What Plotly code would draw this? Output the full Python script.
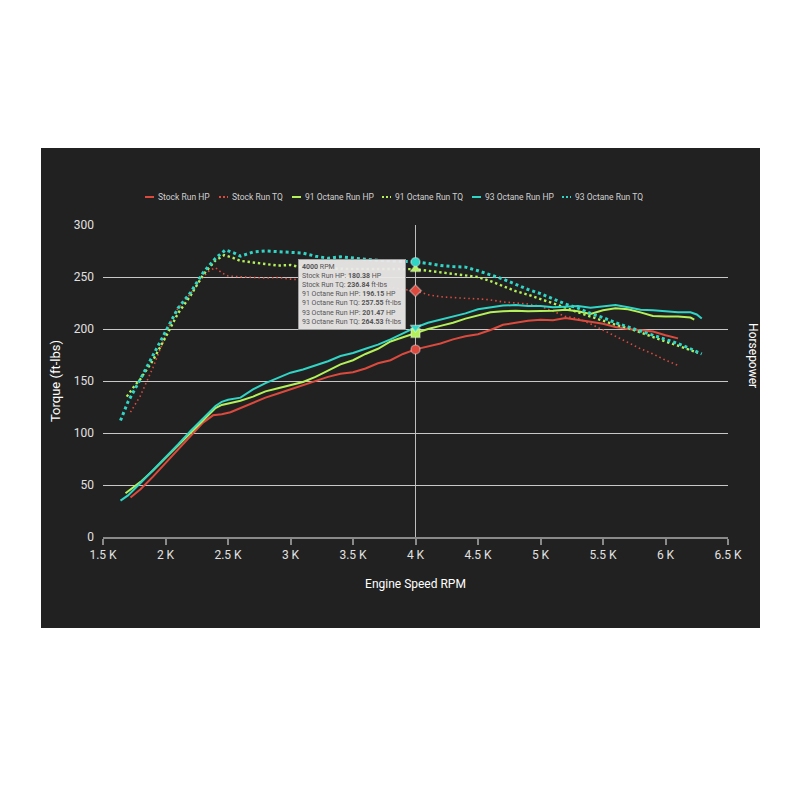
import plotly.graph_objects as go

stock_hp_rpm = [1720, 1800, 1900, 2000, 2100, 2200, 2300, 2380, 2450, 2520, 2600, 2700, 2800, 2900, 3000,
                3100, 3200, 3300, 3400, 3500, 3600, 3700, 3800, 3900, 4000, 4100, 4200, 4300, 4400, 4500,
                4600, 4700, 4800, 4900, 5000, 5100, 5200, 5300, 5400, 5500, 5600, 5700, 5800, 5900, 6000, 6100]
stock_hp = [38, 46, 58, 71, 84, 97, 110, 117, 118, 120, 124, 129, 134, 138, 142,
            146, 150, 154, 157, 158.5, 162, 167, 170, 176, 180.38, 183, 186, 190, 193, 195,
            199, 204, 206, 208, 209, 208.5, 210.5, 209, 207, 205, 202, 200, 199, 197.5, 194, 191]

stock_tq_rpm = [1720, 1800, 1900, 2000, 2060, 2100, 2200, 2300, 2350, 2400, 2450, 2500, 2600, 2700, 2800,
                2900, 3000, 3100, 3200, 3300, 3400, 3500, 3600, 3700, 3800, 3900, 4000, 4100, 4200, 4300,
                4400, 4500, 4600, 4700, 4800, 4900, 5000, 5100, 5200, 5300, 5400, 5500, 5600, 5700, 5800,
                5900, 6000, 6100]
stock_tq = [120, 136, 163, 193, 212, 220, 234, 250, 256, 259, 254, 251, 250, 249.5, 249,
            249.5, 248, 247, 246, 246, 245, 244, 243, 242, 240, 238, 236.84, 233, 231, 230,
            229.5, 229, 228, 226, 225, 224, 222, 217, 212, 210, 205, 199, 193, 187, 181,
            176, 170, 165]

o91_hp_rpm = [1680, 1750, 1800, 1900, 2000, 2100, 2200, 2300, 2400, 2450, 2500, 2600, 2700, 2800, 2900,
              3000, 3100, 3200, 3300, 3400, 3500, 3600, 3700, 3800, 3900, 4000, 4100, 4200, 4300, 4400,
              4500, 4600, 4700, 4800, 4900, 5000, 5100, 5200, 5300, 5400, 5500, 5600, 5700, 5800, 5900,
              6000, 6100, 6200, 6230]
o91_hp = [42, 48, 53, 64, 76, 88, 100, 113, 124, 127, 128.5, 131, 135, 140, 143,
          146, 149, 154, 160, 166, 170, 176, 181, 188, 192, 196.15, 200, 203, 206, 210,
          213, 216, 217, 217.5, 217, 217, 217.5, 218.5, 217, 214.5, 218, 220, 219, 216, 212.5,
          212, 212, 211, 209]

o91_tq_rpm = [1690, 1750, 1800, 1900, 2000, 2100, 2200, 2300, 2400, 2470, 2550, 2600, 2700, 2800, 2900,
              3000, 3100, 3200, 3300, 3400, 3500, 3600, 3700, 3800, 3900, 4000, 4100, 4200, 4300, 4400,
              4500, 4600, 4700, 4800, 4900, 5000, 5100, 5200, 5300, 5400, 5500, 5600, 5700, 5800, 5900,
              6000, 6100, 6200, 6260]
o91_tq = [135, 145, 152, 170, 192, 215, 232, 252, 266, 271, 268, 265.5, 264, 262.5, 261,
          261.5, 259, 258, 258, 258, 257.5, 257.5, 257.5, 257.5, 257.5, 257.55, 256, 254.5, 253, 251,
          250, 246, 241, 236.5, 233, 229, 225, 220.5, 216, 212, 207.5, 204, 201, 196.5, 192,
          188, 184, 180, 177]

o93_hp_rpm = [1640, 1700, 1800, 1900, 2000, 2100, 2200, 2300, 2400, 2450, 2500, 2600, 2700, 2800, 2900,
              3000, 3100, 3200, 3300, 3400, 3500, 3600, 3700, 3800, 3900, 4000, 4100, 4200, 4300, 4400,
              4500, 4600, 4700, 4800, 4900, 5000, 5100, 5200, 5300, 5400, 5500, 5600, 5700, 5800, 5900,
              6000, 6100, 6200, 6250, 6290]
o93_hp = [35, 40, 52, 64, 76, 89, 102, 114, 126, 130, 132, 134, 142, 148, 153,
          158, 161, 165, 169, 174, 177, 181, 185, 190, 196, 201.47, 206, 209, 212, 215,
          219, 221, 222.5, 223, 222, 222, 221, 221.5, 222, 220.5, 222, 223, 221, 218.5, 218,
          217, 216, 216, 214, 210]

o93_tq_rpm = [1640, 1700, 1800, 1900, 2000, 2100, 2200, 2300, 2400, 2480, 2550, 2600, 2650, 2700, 2800,
              2900, 3000, 3100, 3200, 3300, 3400, 3500, 3600, 3700, 3800, 3900, 4000, 4100, 4200, 4300,
              4400, 4500, 4600, 4700, 4800, 4900, 5000, 5100, 5200, 5300, 5400, 5500, 5600, 5700, 5800,
              5900, 6000, 6100, 6200, 6290]
o93_tq = [112, 130, 152, 175, 198, 220, 235, 254, 268, 276, 273, 270, 272, 274, 275,
          274.5, 274, 273, 270, 268, 269.5, 268, 267, 266, 265.5, 265, 264.53, 263, 261, 260,
          259.5, 256, 252, 248, 243, 238, 234, 229, 224, 220, 215, 211, 206, 202, 198,
          194, 190, 186, 181, 176]

x_ticks = [1500, 2000, 2500, 3000, 3500, 4000, 4500, 5000, 5500, 6000, 6500]
x_tick_labels = ["1.5 K", "2 K", "2.5 K", "3 K", "3.5 K", "4 K", "4.5 K", "5 K", "5.5 K", "6 K", "6.5 K"]
y_ticks = [0, 50, 100, 150, 200, 250, 300]
cursor_rpm = 4000

RED = "#dc4a3e"
GREEN = "#b3f05a"
CYAN = "#31d5c6"
BG = "#212121"

# area de trazado: 625 x 312 px
PW, PH = 625.0, 312.0

series = [
    ("Stock Run HP", stock_hp_rpm, stock_hp, RED, "solid", 2, "circle", "HP"),
    ("Stock Run TQ", stock_tq_rpm, stock_tq, RED, "1.5px,3px", 1.6, "diamond", "ft-lbs"),
    ("91 Octane Run HP", o91_hp_rpm, o91_hp, GREEN, "solid", 2, "square", "HP"),
    ("91 Octane Run TQ", o91_tq_rpm, o91_tq, GREEN, "2.4px,2.8px", 2.4, "triangle-up", "ft-lbs"),
    ("93 Octane Run HP", o93_hp_rpm, o93_hp, CYAN, "solid", 2, "triangle-down", "HP"),
    ("93 Octane Run TQ", o93_tq_rpm, o93_tq, CYAN, "3px,3px", 3, "circle", "ft-lbs"),
]
# posicion (px desde el borde izquierdo del area) de cada entrada de la leyenda
legend_offsets = [42, 116, 189, 279, 369, 459]

fig = go.Figure()

# Curvas
for name, xs, ys, color, dash, width, symbol, unit in series:
    fig.add_trace(go.Scatter(
        x=xs, y=ys, mode="lines", name=name, showlegend=False,
        line=dict(color=color, dash=dash, width=width),
    ))

# Marcadores del cursor en 4000 RPM + texto del tooltip
tooltip_lines = [f"<b>{cursor_rpm}</b> RPM"]
for name, xs, ys, color, dash, width, symbol, unit in series:
    val = ys[xs.index(cursor_rpm)]
    fig.add_trace(go.Scatter(
        x=[cursor_rpm], y=[val], mode="markers", showlegend=False,
        marker=dict(symbol=symbol, size=9, color=color,
                    line=dict(color="rgba(255,255,255,0.35)", width=1.5)),
    ))
    tooltip_lines.append(f"{name}: <b>{val:.2f}</b> {unit}")

# Leyenda dibujada a mano (simbolos cortos, una sola fila)
leg_y = 1.0897
for (name, xs, ys, color, dash, width, symbol, unit), off in zip(series, legend_offsets):
    fig.add_shape(type="line", xref="paper", yref="paper",
                  x0=off / PW, x1=(off + 9) / PW, y0=leg_y, y1=leg_y,
                  line=dict(color=color, dash=dash if dash == "solid" else "2px,2px", width=2))
    fig.add_annotation(x=(off + 11) / PW, y=leg_y, xref="paper", yref="paper",
                       xanchor="left", yanchor="middle", text=name, showarrow=False,
                       font=dict(family="Roboto", size=8.5, color="#d0d0d0"))

# Linea vertical del cursor
fig.add_shape(type="line", xref="x", yref="y", x0=cursor_rpm, x1=cursor_rpm, y0=0, y1=300,
              line=dict(color="#bdbdbd", width=1), layer="below")

# Panel oscuro
fig.add_shape(type="rect", xref="paper", yref="paper",
              x0=-62 / PW, x1=657 / PW, y0=-91 / PH, y1=389 / PH,
              fillcolor=BG, line=dict(width=0), layer="below")

fig.add_annotation(
    x=3060, y=267.3, xref="x", yref="y", xanchor="left", yanchor="top",
    text="<br>".join(tooltip_lines), showarrow=False, align="left",
    font=dict(family="Roboto", size=7, color="#555555"),
    bgcolor="rgba(236,233,233,0.95)", bordercolor="#9e9e9e", borderwidth=1, borderpad=3,
)

fig.add_annotation(
    x=1.0544, y=0.583, xref="paper", yref="paper", text="Horsepower", textangle=90,
    showarrow=False, font=dict(family="Roboto", size=12, color="#ffffff"),
)

# la pagina tiene 8 px de margen en el body: se compensa en los margenes
fig.update_layout(
    width=800, height=800,
    margin=dict(l=95, r=80, t=217, b=271),
    paper_bgcolor="white", plot_bgcolor=BG,
    font=dict(family="Roboto", color="#e0e0e0"),
    showlegend=False,
    xaxis=dict(
        range=[1500, 6500], tickvals=x_ticks, ticktext=x_tick_labels,
        showgrid=False, zeroline=False, showline=True, linecolor="#8a8a8a", linewidth=2,
        ticks="outside", ticklen=6, tickcolor="#8a8a8a", tickwidth=1.5,
        tickfont=dict(size=12, color="#e0e0e0"),
        title=dict(text="Engine Speed RPM", font=dict(size=12, color="#ffffff"), standoff=18),
    ),
    yaxis=dict(
        range=[0, 300], tickvals=y_ticks, showgrid=True, gridcolor="#c8c8c8", gridwidth=1,
        zeroline=False, showline=False, ticks="", ticklabelstandoff=8,
        tickfont=dict(size=12, color="#e0e0e0"),
        title=dict(text="Torque (ft-lbs)", font=dict(size=13, color="#ffffff"), standoff=10),
    ),
)

fig.write_html("out.html")
